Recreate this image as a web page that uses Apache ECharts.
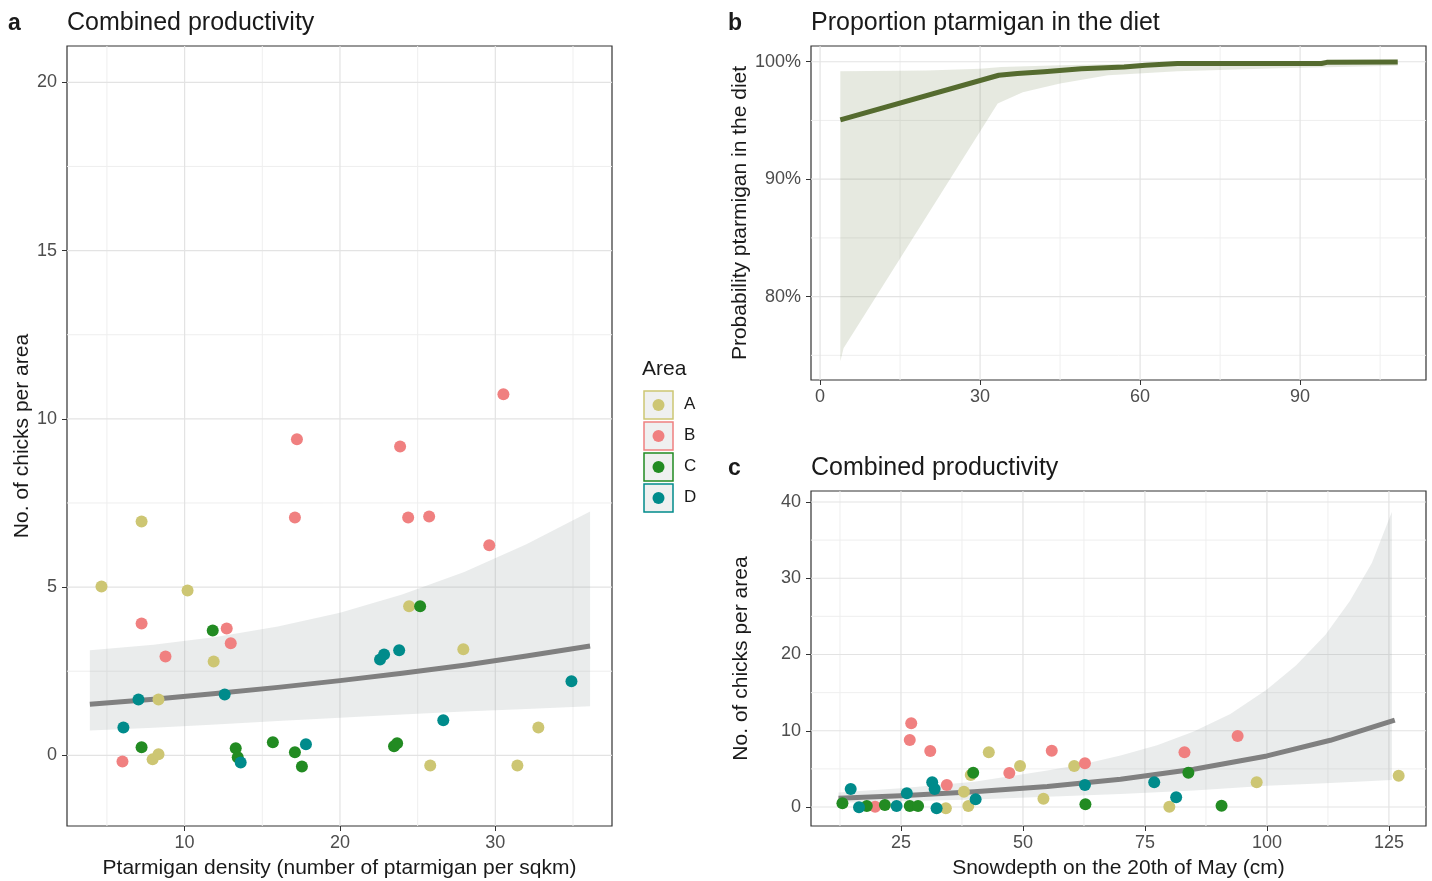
<!DOCTYPE html>
<html><head><meta charset="utf-8">
<script src="https://cdn.jsdelivr.net/npm/echarts@6/dist/echarts.min.js"></script>
<style>html,body{margin:0;padding:0;background:#fff}#c{width:1432px;height:881px}</style>
</head><body><div id="c"></div>
<script>
// ---------- Panel a: chicks vs ptarmigan density ----------
const aDensA = [4.65, 7.23, 10.19, 11.87, 8.32, 7.94, 8.32, 24.45, 27.94, 25.81, 31.42, 32.77];
const aChickA = [5.02, 6.95, 4.90, 2.79, 1.66, -0.12, 0.03, 4.43, 3.15, -0.30, -0.30, 0.83];
const aDensB = [7.23, 12.71, 12.97, 8.77, 6.0, 17.23, 17.10, 23.87, 24.39, 25.74, 29.61, 30.52];
const aChickB = [3.92, 3.77, 3.33, 2.94, -0.18, 9.39, 7.07, 9.18, 7.07, 7.10, 6.24, 10.73];
const aDensC = [11.81, 7.23, 13.29, 13.42, 15.68, 17.10, 17.55, 25.16, 23.48, 23.68];
const aChickC = [3.71, 0.24, 0.21, -0.06, 0.39, 0.09, -0.33, 4.43, 0.27, 0.36];
const aDensD = [7.03, 12.58, 6.06, 13.61, 17.81, 22.58, 22.84, 23.81, 34.90, 26.65];
const aChickD = [1.66, 1.81, 0.83, -0.21, 0.33, 2.85, 3.00, 3.12, 2.20, 1.04];
const aFitX = [3.9, 8, 12, 16, 20, 24, 28, 32, 36.1];
const aFit = [1.52, 1.67, 1.84, 2.02, 2.22, 2.44, 2.68, 2.95, 3.25];
const aUpper = [3.12, 3.29, 3.52, 3.83, 4.24, 4.78, 5.45, 6.27, 7.25];
const aLower = [0.74, 0.82, 0.92, 1.02, 1.12, 1.21, 1.30, 1.38, 1.46];
const aXTicks = [10, 20, 30];
const aYTicks = [0, 5, 10, 15, 20];

// ---------- Panel b: proportion ptarmigan in the diet ----------
const bX = [3.8, 33.5, 37, 42, 49, 57, 61, 67, 94, 95, 108.3];
const bFit = [95.05, 98.85, 99.0, 99.15, 99.4, 99.55, 99.7, 99.85, 99.85, 99.95, 99.97];
const bUpX = [3.8, 20, 30, 34, 45, 60, 80, 108.3];
const bUpper = [99.2, 99.25, 99.4, 99.55, 99.7, 99.85, 99.95, 100];
const bLoX = [3.8, 4.4, 33.3, 38, 45, 54, 67, 86, 108.3];
const bLower = [74.5, 75.6, 96.45, 97.4, 98.15, 98.85, 99.2, 99.45, 99.65];
const bXTicks = [0, 30, 60, 90];
const bYTicks = [80, 90, 100];

// ---------- Panel c: chicks vs snow depth ----------
const cSnowA = [43.0, 49.4, 60.5, 39.3, 37.9, 54.2, 34.2, 38.8, 97.9, 127.0, 80.0];
const cChickA = [7.17, 5.38, 5.38, 4.2, 2.01, 1.09, -0.17, 0.13, 3.24, 4.1, 0.04];
const cSnowB = [27.1, 26.8, 31.0, 55.9, 47.2, 62.7, 34.4, 19.7, 94.0, 83.1];
const cChickB = [10.98, 8.79, 7.34, 7.38, 4.46, 5.73, 2.89, 0.04, 9.31, 7.17];
const cSnowC = [39.8, 62.8, 13.0, 18.0, 21.7, 26.8, 28.5, 83.9, 90.7];
const cChickC = [4.5, 0.35, 0.48, 0.13, 0.26, 0.13, 0.13, 4.5, 0.17];
const cSnowD = [14.7, 26.2, 31.4, 31.9, 40.3, 62.7, 16.4, 24.1, 32.3, 76.9, 81.4];
const cChickD = [2.36, 1.79, 3.24, 2.36, 1.01, 2.89, -0.04, 0.13, -0.17, 3.24, 1.27];
const cFitX = [12.2, 25, 40, 55, 70, 85, 100, 113, 126.2];
const cFit = [1.14, 1.48, 2.0, 2.7, 3.65, 4.95, 6.7, 8.75, 11.4];
const cUpX = [12.2, 25, 40, 55, 62.5, 70, 77.5, 85, 92.5, 100, 106, 112, 117, 121.5, 125.6];
const cUpper = [1.9, 2.45, 3.3, 4.8, 5.65, 6.75, 8.1, 9.9, 12.2, 15.4, 18.6, 22.6, 27.0, 32.0, 38.7];
const cLoX = [12.2, 25, 40, 55, 70, 85, 100, 113, 125.6];
const cLower = [0.55, 0.75, 1.0, 1.33, 1.72, 2.15, 2.78, 3.15, 3.54];
const cXTicks = [25, 50, 75, 100, 125];
const cYTicks = [0, 10, 20, 30, 40];

const areas = ['A', 'B', 'C', 'D'];
const areaColors = ['#CDC673', '#F08080', '#228B22', '#008B8B'];

const FONT = "'Liberation Sans', Arial, sans-serif";
const ranges = [
  {x: [2.43, 37.51], y: [-2.1, 21.08], xMinor: [5, 15, 25, 35], yMinor: [2.5, 7.5, 12.5, 17.5]},
  {x: [-1.7, 113.6], y: [72.9, 101.34], xMinor: [15, 45, 75, 105], yMinor: [75, 85, 95]},
  {x: [6.56, 132.6], y: [-2.49, 41.44], xMinor: [12.5, 37.5, 62.5, 87.5, 112.5], yMinor: [5, 15, 25, 35]}
];
const majorX = [aXTicks, bXTicks, cXTicks];
const majorY = [aYTicks, bYTicks, cYTicks];

function zip(xs, ys) { return xs.map((x, i) => [x, ys[i]]); }

function axis(gi, rng, ticks, name, gap, margin, fmt) {
  return {
    type: 'value', gridIndex: gi, min: rng[0], max: rng[1],
    axisLine: {show: false, onZero: false}, splitLine: {show: false},
    axisTick: {show: true, length: 5, customValues: ticks, lineStyle: {color: '#333', width: 1}},
    axisLabel: {customValues: ticks, color: '#4D4D4D', fontSize: 18, fontFamily: FONT, margin: margin,
      formatter: fmt || (v => String(v))},
    name: name, nameLocation: 'middle', nameGap: gap,
    nameTextStyle: {fontSize: 21, color: '#1A1A1A', fontFamily: FONT}
  };
}

function gridLines(gi, vals, vertical, major) {
  const r = ranges[gi];
  return {
    type: 'custom', xAxisIndex: gi, yAxisIndex: gi, z: 0, silent: true,
    data: vals.map(v => [v, 0]),
    renderItem: (params, api) => {
      const v = api.value(0);
      const p1 = vertical ? api.coord([v, r.y[0]]) : api.coord([r.x[0], v]);
      const p2 = vertical ? api.coord([v, r.y[1]]) : api.coord([r.x[1], v]);
      return {type: 'line', shape: {x1: p1[0], y1: p1[1], x2: p2[0], y2: p2[1]},
        style: {stroke: major ? '#E3E3E3' : '#EFEFEF', lineWidth: major ? 1.2 : 1}};
    }
  };
}

function band(gi, upX, up, loX, lo, fill) {
  return {
    type: 'custom', xAxisIndex: gi, yAxisIndex: gi, z: 1, silent: true,
    data: [[upX[0], up[0]]],
    renderItem: (params, api) => {
      const pts = [];
      for (let i = 0; i < upX.length; i++) pts.push(api.coord([upX[i], up[i]]));
      for (let i = loX.length - 1; i >= 0; i--) pts.push(api.coord([loX[i], lo[i]]));
      return {type: 'polygon', shape: {points: pts}, style: {fill: fill}};
    }
  };
}

function fitLine(gi, xs, ys, color) {
  return {type: 'line', xAxisIndex: gi, yAxisIndex: gi, z: 2, data: zip(xs, ys), showSymbol: false,
    symbol: 'none', smooth: false, silent: true,
    lineStyle: {color: color, width: 5, join: 'round'}};
}

function points(gi, xs, ys, k) {
  return {type: 'scatter', xAxisIndex: gi, yAxisIndex: gi, z: 3, name: areas[k], data: zip(xs, ys),
    symbolSize: 12, itemStyle: {color: areaColors[k], opacity: 1}};
}

const series = [];
for (let gi = 0; gi < 3; gi++) {
  series.push(gridLines(gi, ranges[gi].xMinor, true, false));
  series.push(gridLines(gi, ranges[gi].yMinor, false, false));
  series.push(gridLines(gi, majorX[gi], true, true));
  series.push(gridLines(gi, majorY[gi], false, true));
}
series.push(band(0, aFitX, aUpper, aFitX, aLower, 'rgba(150,162,162,0.2)'));
series.push(fitLine(0, aFitX, aFit, '#808080'));
[[aDensA, aChickA], [aDensB, aChickB], [aDensC, aChickC], [aDensD, aChickD]].forEach((d, k) => series.push(points(0, d[0], d[1], k)));
series.push(band(1, bUpX, bUpper, bLoX, bLower, 'rgba(85,107,47,0.15)'));
series.push(fitLine(1, bX, bFit, '#556B2F'));
series.push(band(2, cUpX, cUpper, cLoX, cLower, 'rgba(150,162,162,0.2)'));
series.push(fitLine(2, cFitX, cFit, '#808080'));
[[cSnowA, cChickA], [cSnowB, cChickB], [cSnowC, cChickC], [cSnowD, cChickD]].forEach((d, k) => series.push(points(2, d[0], d[1], k)));

// legend graphics
const legendG = [{type: 'text', left: 642, top: 359, style: {text: 'Area', fontSize: 21, fill: '#1A1A1A', fontFamily: FONT}}];
areas.forEach((a, k) => {
  const y0 = 391 + k * 31;
  legendG.push({type: 'rect', shape: {x: 644, y: y0, width: 29, height: 28},
    style: {fill: '#EFF0F0', stroke: areaColors[k], lineWidth: 1.5}});
  legendG.push({type: 'circle', shape: {cx: 658.5, cy: y0 + 14, r: 6}, style: {fill: areaColors[k]}});
  legendG.push({type: 'text', left: 684, top: y0 + 5, style: {text: a, fontSize: 17, fill: '#1A1A1A', fontFamily: FONT}});
});

function label(x, y, text, bold) {
  return {type: 'text', left: x, top: y, style: {text: text, fontSize: bold ? 23 : 25, fontWeight: bold ? 'bold' : 'normal', fill: '#1A1A1A', fontFamily: FONT}};
}

const gridBase = {show: true, borderColor: '#333', borderWidth: 1.2, backgroundColor: '#fff', outerBoundsMode: 'none', containLabel: false};
const option = {
  animation: false,
  backgroundColor: '#fff',
  grid: [
    Object.assign({left: 67, top: 46, width: 545, height: 780}, gridBase),
    Object.assign({left: 811, top: 46, width: 615, height: 334}, gridBase),
    Object.assign({left: 811, top: 491, width: 615, height: 335}, gridBase)
  ],
  xAxis: [
    axis(0, ranges[0].x, aXTicks, 'Ptarmigan density (number of ptarmigan per sqkm)', 32, 8),
    axis(1, ranges[1].x, bXTicks, '', 30, 8),
    axis(2, ranges[2].x, cXTicks, 'Snowdepth on the 20th of May (cm)', 32, 8)
  ],
  yAxis: [
    axis(0, ranges[0].y, aYTicks, 'No. of chicks per area', 34, 10),
    axis(1, ranges[1].y, bYTicks, 'Probability ptarmigan in the diet', 59, 10, v => v + '%'),
    axis(2, ranges[2].y, cYTicks, 'No. of chicks per area', 59, 10)
  ],
  series: series,
  graphic: [
    label(8, 12, 'a', true), label(67, 11, 'Combined productivity'),
    label(728, 12, 'b', true), label(811, 11, 'Proportion ptarmigan in the diet'),
    label(728, 457, 'c', true), label(811, 456, 'Combined productivity')
  ].concat(legendG)
};
const chart = echarts.init(document.getElementById('c'), null, {renderer: 'canvas'});
chart.setOption(option);
</script></body></html>
